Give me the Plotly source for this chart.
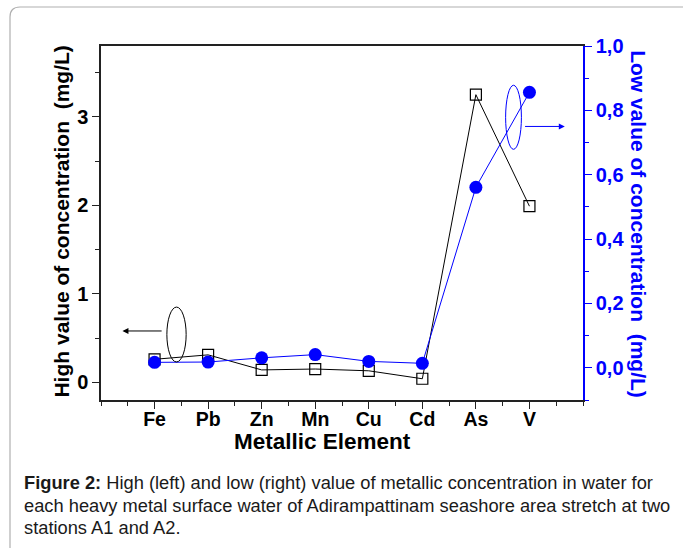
import plotly.graph_objects as go

elements = ["Fe", "Pb", "Zn", "Mn", "Cu", "Cd", "As", "V"]
high_values = [0.26, 0.31, 0.14, 0.15, 0.13, 0.04, 3.25, 1.99]
low_values = [0.017, 0.018, 0.031, 0.041, 0.020, 0.014, 0.561, 0.856]
positions = list(range(1, len(elements) + 1))

FONT = "Liberation Sans, Arial, sans-serif"
BLUE = "#0000ff"

fig = go.Figure()
fig.add_trace(go.Scatter(
    x=positions, y=high_values, mode="lines+markers", name="High",
    line=dict(color="black", width=1),
    marker=dict(symbol="square-open", size=11, color="black", line=dict(width=1.2)),
    yaxis="y", showlegend=False))
fig.add_trace(go.Scatter(
    x=positions, y=low_values, mode="lines+markers", name="Low",
    line=dict(color=BLUE, width=1),
    marker=dict(symbol="circle", size=13, color=BLUE),
    yaxis="y2", showlegend=False))

fig.update_layout(
    width=683, height=548,
    margin=dict(l=101, r=100, t=46, b=148),
    paper_bgcolor="white", plot_bgcolor="white",
    separators=",.",
    font=dict(family=FONT, color="black"),
    xaxis=dict(
        range=[0, 9], tickmode="array", tickvals=positions, ticktext=elements,
        showgrid=False, zeroline=False, showline=True, linecolor="#222", linewidth=1.5,
        mirror=True, ticks="outside", ticklen=7, tickwidth=1.2, tickcolor="#222",
        ticklabelstandoff=-6,
        tickfont=dict(size=19.5, family=FONT, color="black", weight="bold"),
        minor=dict(tickmode="linear", tick0=0, dtick=0.5, ticks="outside", ticklen=4,
                   tickcolor="#222", showgrid=False),
    ),
    xaxis2=dict(
        range=[0, 9], overlaying="x", side="top", showgrid=False, zeroline=False,
        showline=False, showticklabels=False, ticks="inside", ticklen=3,
        tickmode="linear", tick0=0, dtick=0.5, tickcolor="#222",
    ),
    yaxis=dict(
        range=[-0.2, 3.8], tickmode="linear", tick0=0, dtick=1,
        showgrid=False, zeroline=False, showline=True, linecolor="#222", linewidth=1.5,
        ticks="outside", ticklen=7, tickwidth=1.2, tickcolor="#222",
        tickfont=dict(size=20, family=FONT, color="black", weight="bold"),
        minor=dict(tickmode="linear", tick0=0, dtick=0.5, ticks="outside", ticklen=4,
                   tickcolor="#222", showgrid=False),
    ),
    yaxis2=dict(
        range=[-0.1, 1.0], overlaying="y", side="right", anchor="x",
        tickmode="linear", tick0=0, dtick=0.2, tickformat=".1f",
        showgrid=False, zeroline=False, showline=True, linecolor=BLUE, linewidth=1.5,
        ticks="outside", ticklen=7, tickwidth=1.2, tickcolor=BLUE,
        tickfont=dict(size=20, family=FONT, color=BLUE, weight="bold"),
        minor=dict(tickmode="linear", tick0=0, dtick=0.1, ticks="outside", ticklen=4,
                   tickcolor=BLUE, showgrid=False),
    ),
)

# Figure frame (rounded top-left corner)
fig.add_shape(type="path", xref="paper", yref="paper",
              path="M -0.1888,-0.45 L -0.1888,1.0819 Q -0.1888,1.1102 -0.1680,1.1102 L 1.45,1.1102",
              line=dict(color="#b0b0b0", width=1.2), layer="above")

# Ellipses and arrows indicating axes
fig.add_shape(type="circle", xref="x", yref="y", x0=1.23, x1=1.59, y0=0.23, y1=0.85,
              line=dict(color="black", width=1))
fig.add_annotation(x=0.40, y=0.58, ax=1.16, ay=0.58, xref="x", yref="y", axref="x", ayref="y",
                   text="", showarrow=True, arrowhead=2, arrowsize=1.2, arrowwidth=1,
                   arrowcolor="black")
fig.add_shape(type="circle", xref="x", yref="y2", x0=7.555, x1=7.85, y0=0.679, y1=0.878,
              line=dict(color=BLUE, width=1))
fig.add_annotation(x=8.66, y=0.75, ax=7.89, ay=0.75, xref="x", yref="y2", axref="x", ayref="y2",
                   text="", showarrow=True, arrowhead=2, arrowsize=1.2, arrowwidth=1,
                   arrowcolor=BLUE)

# Axis titles
fig.add_annotation(x=-0.081, y=0.504, xref="paper", yref="paper", textangle=-90,
                   text="High value of concentration\u00a0\u00a0(mg/L)", showarrow=False,
                   xanchor="center", yanchor="middle",
                   font=dict(size=21, family=FONT, color="black", weight="bold"))
fig.add_annotation(x=1.116, y=0.497, xref="paper", yref="paper", textangle=90,
                   text="Low value of concentration\u00a0\u00a0(mg/L)", showarrow=False,
                   xanchor="center", yanchor="middle",
                   font=dict(size=21, family=FONT, color=BLUE, weight="bold"))
fig.add_annotation(x=0.46, y=-0.118, xref="paper", yref="paper",
                   text="Metallic Element", showarrow=False,
                   xanchor="center", yanchor="middle",
                   font=dict(size=22.5, family=FONT, color="black", weight="bold"))

# Caption
caption_lines = [
    "<b>Figure 2:</b> High (left) and low (right) value of metallic concentration in water for",
    "each heavy metal surface water of Adirampattinam seashore area stretch at two",
    "stations A1 and A2.",
]
caption_y = [482, 505, 527]
for line, py in zip(caption_lines, caption_y):
    fig.add_annotation(x=(22 - 101) / 482, y=(400 - py) / 354, xref="paper", yref="paper",
                       text=line, showarrow=False, xanchor="left", yanchor="middle",
                       font=dict(size=18.3, family=FONT, color="#1a1a1a"))

fig.write_html("out.html", config={"displayModeBar": False},
               post_script="document.body.style.margin='0px';")
